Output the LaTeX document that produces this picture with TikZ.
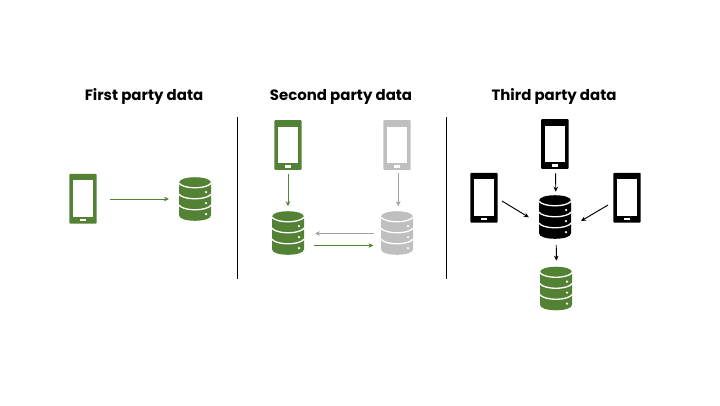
\documentclass[tikz,border=0pt]{standalone}
\usepackage{fontspec}
\setmainfont{Poppins}
\usetikzlibrary{arrows.meta}
\definecolor{grn}{HTML}{548235}
\definecolor{gry}{HTML}{BFBFBF}
\tikzset{
  x=1bp,y=-1bp,
  phonebox/.style={draw=none,inner sep=0,outer sep=0,minimum width=27.4bp,minimum height=49.6bp},
  dbbox/.style={draw=none,inner sep=0,outer sep=0,minimum width=32bp,minimum height=43.6bp},
  title/.style={font=\bfseries\fontsize{14.95bp}{16bp}\selectfont,text=black,anchor=center,inner sep=0},
  divider/.style={line width=0.85bp,black},
  link/.style={line width=0.95bp,-{Stealth[length=5bp,width=4.6bp]}},
  pics/phoneicon/.style={code={
    \fill[#1,rounded corners=0.8bp] (-13.7,-24.8) rectangle (13.7,24.8);
    \fill[white] (-10.2,-18.3) rectangle (10.2,18.2);
    \fill[white] (-3,20.3) rectangle (3,22.6);
  }},
  pics/dbicon/.style={code={
    \fill[#1] (-16,-16.3) .. controls (-16,-23.6) and (16,-23.6) .. (16,-16.3)
       -- (16,16.3) .. controls (16,23.6) and (-16,23.6) .. (-16,16.3) -- cycle;
    \foreach \yy in {-16.3,-5.3,5.7}{
      \draw[white,line width=1.3bp] (-16.6,\yy) .. controls (-12,\yy+6.8) and (12,\yy+6.8) .. (16.6,\yy);
    }
    \foreach \yy in {-7,4.2,15.2}{
      \fill[white] (11,\yy) circle[radius=1.25];
    }
  }},
}
\begin{document}
\begin{tikzpicture}
\useasboundingbox (0,0) rectangle (720,405);
\node[title] (t1) at (144,96.8) {First party data};
\node[title] (t2) at (341,96.8) {Second party data};
\node[title] (t3) at (554,96.8) {Third party data};

\coordinate (d1a) at (237.5,117);
\coordinate (d1b) at (237.5,279);
\coordinate (d2a) at (446.5,117);
\coordinate (d2b) at (446.5,279);
\draw[divider] (d1a) -- (d1b);
\draw[divider] (d2a) -- (d2b);

% first party
\node[phonebox] (fp) at (83,198.7) {};
\pic at (fp) {phoneicon=grn};
\node[dbbox] (fd) at (195,199) {};
\pic at (fd) {dbicon=grn};
\draw[link,grn,shorten <=13.3bp,shorten >=10bp] (fp.east |- fd) -- (fd.west);

% second party
\node[phonebox] (sp1) at (288,145) {};
\pic at (sp1) {phoneicon=grn};
\node[phonebox] (sp2) at (397,145) {};
\pic at (sp2) {phoneicon=gry};
\node[dbbox] (sd1) at (288,233) {};
\pic at (sd1) {dbicon=grn};
\node[dbbox] (sd2) at (397,233) {};
\pic at (sd2) {dbicon=gry};
\draw[link,grn,shorten <=4bp,shorten >=5bp] (sp1.south) -- (sd1.north);
\draw[link,gry!85!black,shorten <=3.5bp,shorten >=5bp] ([xshift=1.3bp]sp2.south) -- ([xshift=1.3bp]sd2.north);
\coordinate (ga) at (374,233.5);
\coordinate (gb) at (315,233.5);
\coordinate (ha) at (314,245.5);
\coordinate (hb) at (373.5,245.5);
\draw[link,gry!85!black] (ga) -- (gb);
\draw[link,grn] (ha) -- (hb);

% third party
\node[phonebox] (tp1) at (554.8,144) {};
\pic at (tp1) {phoneicon=black};
\node[phonebox] (tp2) at (484,197.7) {};
\pic at (tp2) {phoneicon=black};
\node[phonebox] (tp3) at (627,197.7) {};
\pic at (tp3) {phoneicon=black};
\node[dbbox] (td) at (555,217) {};
\pic at (td) {dbicon=black};
\node[dbbox] (tg) at (556,288.5) {};
\pic at (tg) {dbicon=grn};
\coordinate (la) at (502,201);
\coordinate (lb) at (528.8,217.3);
\coordinate (ra) at (608,205);
\coordinate (rb) at (581,221);
\draw[link,black,shorten <=4.5bp,shorten >=3.5bp] ([xshift=0.8bp]tp1.south) -- ([xshift=0.8bp]td.north);
\draw[link,black] (la) -- (lb);
\draw[link,black] (ra) -- (rb);
\draw[link,black,shorten <=6bp,shorten >=6bp] ([xshift=1.2bp]td.south) -- ([xshift=0.4bp]tg.north);
\end{tikzpicture}
\end{document}
